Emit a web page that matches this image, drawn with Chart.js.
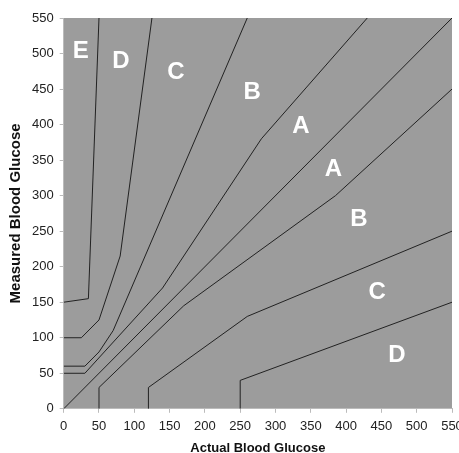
<!DOCTYPE html>
<html>
<head>
<meta charset="utf-8">
<script src="https://cdn.jsdelivr.net/npm/chart.js@4.4.1/dist/chart.umd.min.js"></script>
<style>
  html, body { margin: 0; padding: 0; background: #fff; }
  #wrap { width: 459px; height: 453px; }
</style>
</head>
<body>
<div id="wrap"><canvas id="grid" width="459" height="453"></canvas></div>
<script>
// zone boundaries (actual, measured) of the error grid
var diagonal = [[0, 0], [550, 550]];
var upperA = [[0, 50], [30, 50], [140, 170], [280, 380], [430, 550]];
var lowerA = [[50, 0], [50, 30], [170, 145], [385, 300], [550, 450]];
var upperB = [[0, 60], [30, 60], [50, 80], [70, 110], [260, 550]];
var lowerB = [[120, 0], [120, 30], [260, 130], [550, 250]];
var upperC = [[0, 100], [25, 100], [50, 125], [80, 215], [125, 550]];
var lowerC = [[250, 0], [250, 40], [550, 150]];
var upperD = [[0, 150], [35, 155], [50, 550]];

// zone letters and where they sit
var zoneNames = ['E', 'D', 'C', 'B', 'A', 'A', 'B', 'C', 'D'];
var zoneX = [24, 81, 159, 267, 336, 382, 418, 444, 472];
var zoneY = [503, 489, 474, 446, 397, 337, 266, 164, 75];

var tickValues = [0, 50, 100, 150, 200, 250, 300, 350, 400, 450, 500, 550];

function toPoints(arr){
  return arr.map(function(p){ return {x: p[0], y: p[1]}; });
}

var lines = [diagonal, upperA, lowerA, upperB, lowerB, upperC, lowerC, upperD];

var background = {
  id: 'background',
  beforeDraw: function(chart){
    var a = chart.chartArea, c = chart.ctx;
    c.save();
    c.fillStyle = '#9c9c9c';
    c.fillRect(a.left, a.top, a.right - a.left, a.bottom - a.top);
    c.restore();
  }
};

var zoneLabels = {
  id: 'zoneLabels',
  afterDatasetsDraw: function(chart){
    var c = chart.ctx, xs = chart.scales.x, ys = chart.scales.y;
    c.save();
    c.fillStyle = '#ffffff';
    c.font = 'bold 24px "Liberation Sans", Arial, sans-serif';
    c.textAlign = 'center';
    c.textBaseline = 'middle';
    zoneNames.forEach(function(n, i){
      c.fillText(n, xs.getPixelForValue(zoneX[i]), ys.getPixelForValue(zoneY[i]));
    });
    c.restore();
  }
};

var axisOpts = function(title, size){
  return {
    type: 'linear', min: 0, max: 550,
    afterBuildTicks: function(s){ s.ticks = tickValues.map(function(v){ return {value: v}; }); },
    grid: { display: true, drawOnChartArea: false, drawTicks: true, tickLength: 4, tickColor: '#bbbbbb' },
    border: { display: true, color: '#bbbbbb' },
    ticks: { color: '#222', font: { family: '"Liberation Sans", Arial, sans-serif', size: 13 }, padding: 6 },
    title: { display: true, text: title, color: '#111', padding: { top: 0, bottom: 0 },
      font: { family: '"Liberation Sans", Arial, sans-serif', size: size, weight: 'bold' } }
  };
};

var xAxis = axisOpts('Actual Blood Glucose', 13);
// let the last x label run off the right edge, as in the original
xAxis.afterFit = function(s){ s.paddingRight = 0; };
var yAxis = axisOpts('Measured Blood Glucose', 15);
yAxis.title.padding = { top: 0, bottom: 1 };

new Chart(document.getElementById('grid'), {
  type: 'scatter',
  data: {
    datasets: lines.map(function(l){
      return { data: toPoints(l), showLine: true, borderColor: '#222', borderWidth: 1,
               pointRadius: 0, fill: false, tension: 0 };
    })
  },
  options: {
    responsive: false,
    animation: false,
    layout: { padding: { top: 18, right: 7, left: 7, bottom: -3 } },
    plugins: { legend: { display: false }, tooltip: { enabled: false } },
    scales: { x: xAxis, y: yAxis }
  },
  plugins: [background, zoneLabels]
});
</script>
</body>
</html>
